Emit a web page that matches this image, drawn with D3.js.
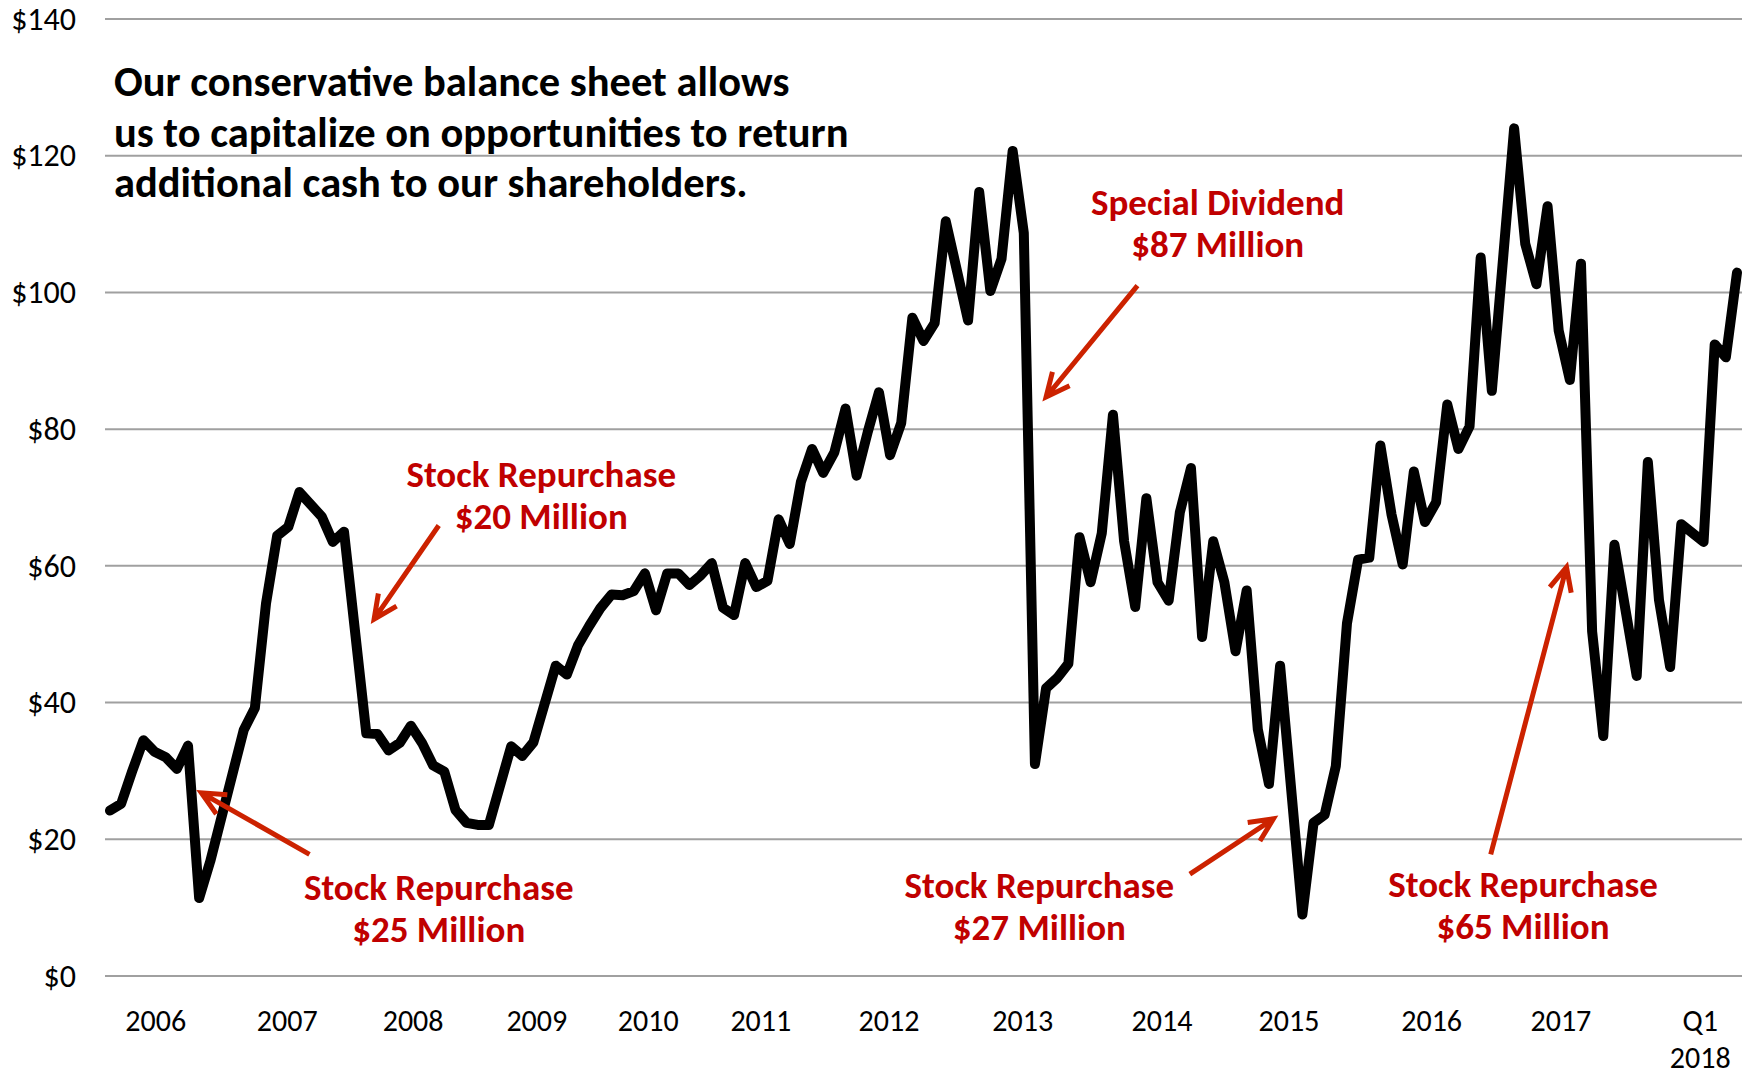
<!DOCTYPE html>
<html>
<head>
<meta charset="utf-8">
<script src="https://cdn.jsdelivr.net/npm/d3@7"></script>
<style>
  body { margin: 0; background: #fff; }
  text { font-family: Carlito, Lato, sans-serif; }
</style>
</head>
<body>
<div id="chart"></div>
<script>
// month index (0 = first month on the chart) and the price read at that month
const months = [0, 1, 2, 3, 4, 5, 6, 7, 8, 9, 12, 13, 14, 15, 16, 17, 18, 19, 20, 21,
  23, 24, 25, 26, 27, 28, 29, 30, 31, 32, 33, 34, 36, 37, 38, 40, 41, 42, 43, 44,
  45, 46, 47, 48, 49, 50, 51, 52, 53, 54, 55, 56, 57, 58, 59, 60, 61, 62, 63, 64,
  65, 66, 67, 68, 69, 70, 71, 72, 73, 74, 75, 76, 77, 78, 79, 80, 81, 82, 83, 84,
  85, 86, 87, 88, 89, 90, 91, 92, 93, 94, 95, 96, 97, 98, 99, 100, 101, 102, 103, 104,
  105, 107, 108, 109, 110, 111, 112, 113, 114, 115, 116, 117, 118, 119, 120, 121, 122, 123, 124, 126,
  127, 128, 129, 130, 131, 132, 133, 134, 135, 137, 138, 139, 140, 141, 143, 144, 145, 146];
const prices = [24.2, 25.2, 30, 34.5, 32.8, 32, 30.3, 33.7, 11.4, 16.8, 36, 39.2, 54.5, 64.4, 65.7, 70.8, 69, 67.2, 63.5, 65,
  35.5, 35.4, 33, 34.1, 36.6, 34.1, 30.8, 29.9, 24.3, 22.4, 22.1, 22.1, 33.6, 32.2, 34.2, 45.4, 44.1, 48.4, 51.2, 53.8,
  55.8, 55.7, 56.3, 58.9, 53.5, 58.9, 58.9, 57.2, 58.6, 60.4, 53.9, 52.8, 60.4, 56.9, 57.8, 66.8, 63.2, 72.3, 77.1, 73.6,
  76.6, 83, 73.2, 79.6, 85.4, 76.2, 80.9, 96.3, 92.9, 95.5, 110.4, 103.2, 95.9, 114.7, 100.2, 104.9, 120.7, 108.7, 31, 42.1,
  43.6, 45.7, 64.2, 57.6, 64.8, 82.1, 63.6, 54, 69.9, 57.6, 54.9, 67.8, 74.3, 49.6, 63.6, 57.6, 47.5, 56.4, 36.1, 28.1,
  45.4, 9, 22.4, 23.6, 30.7, 51.6, 60.9, 61.2, 77.6, 67.5, 60.2, 73.8, 66.4, 69.3, 83.6, 77.1, 80.4, 105.1, 85.6, 124,
  107.1, 101.2, 112.6, 94.4, 87.2, 104.2, 50.4, 35.1, 63.1, 43.9, 75.2, 55, 45.2, 66.1, 63.5, 92.4, 90.5, 102.9];

const yTicks = [0, 20, 40, 60, 80, 100, 120, 140];
const yearLabels = ["2006", "2007", "2008", "2009", "2010", "2011", "2012", "2013",
  "2014", "2015", "2016", "2017", "Q1\n2018"];
const yearPos = [4.1, 15.9, 27.2, 38.3, 48.3, 58.4, 69.9, 81.9, 94.4, 105.8, 118.6, 130.2, 142.7];

const titleLines = ["Our conservative balance sheet allows",
  "us to capitalize on opportunities to return",
  "additional cash to our shareholders."];

// callouts: text, where the text sits and where the arrow runs, in [month, price]
const calloutText = [["Stock Repurchase", "$25 Million"], ["Stock Repurchase", "$20 Million"],
  ["Special Dividend", "$87 Million"], ["Stock Repurchase", "$27 Million"], ["Stock Repurchase", "$65 Million"]];
const calloutAt = [[29.5, 11.1], [38.7, 71.6], [99.4, 111.3], [83.4, 11.4], [126.8, 11.55]];
const arrowFrom = [[17.9, 17.8], [29.5, 65.9], [92.2, 101.0], [96.9, 14.9], [123.9, 17.8]];
const arrowTo = [[8.2, 26.8], [23.7, 52.2], [84.0, 84.7], [104.4, 23.0], [130.7, 59.8]];

const width = 1750, height = 1075;
const gridLeft = 105, gridRight = 1742;

const svg = d3.select("#chart")
  .append("svg")
  .attr("width", width)
  .attr("height", height)
  .style("background", "#fff");

const x = d3.scaleLinear()
  .domain([0, 146])
  .range([110, 1737]);

const y = d3.scaleLinear()
  .domain([0, 140])
  .range([976, 19]);

// gridlines
svg.append("g")
  .selectAll("line")
  .data(yTicks)
  .join("line")
    .attr("x1", gridLeft)
    .attr("x2", gridRight)
    .attr("y1", d => y(d))
    .attr("y2", d => y(d))
    .attr("stroke", "#a0a0a0")
    .attr("stroke-width", 2);

// y axis labels
const yAxis = svg.append("g")
  .attr("transform", `translate(${gridLeft},0)`)
  .call(d3.axisLeft(y).tickValues(yTicks).tickSize(0).tickPadding(29).tickFormat(d => "$" + d));
yAxis.select(".domain").remove();
yAxis.selectAll("text")
  .attr("font-size", 32)
  .attr("font-family", "Carlito, Lato, sans-serif")
  .attr("fill", "#000");

// x axis labels, Q1 2018 on two lines
svg.append("g")
  .selectAll("text")
  .data(yearLabels)
  .join("text")
    .attr("text-anchor", "middle")
    .attr("font-size", 30)
    .attr("fill", "#000")
    .each(function(d, i) {
      d3.select(this).selectAll("tspan")
        .data(d.split("\n"))
        .join("tspan")
          .attr("x", x(yearPos[i]))
          .attr("y", (t, j) => 1031 + j * 36.5)
          .text(t => t);
    });

// price line
const points = months.map((m, i) => [m, prices[i]]);
svg.append("path")
  .datum(points)
  .attr("fill", "none")
  .attr("stroke", "#000")
  .attr("stroke-width", 10)
  .attr("stroke-linejoin", "round")
  .attr("stroke-linecap", "round")
  .attr("d", d3.line()
    .x(d => x(d[0]))
    .y(d => y(d[1]))
  );

// title
svg.append("text")
  .attr("font-size", 42.5)
  .attr("font-weight", "bold")
  .attr("fill", "#000")
  .selectAll("tspan")
  .data(titleLines)
  .join("tspan")
    .attr("x", 114)
    .attr("y", (d, i) => 96 + i * 50.5)
    .text(d => d);

// callout arrows: shaft plus open head
const arrowPath = (i) => {
  const x0 = x(arrowFrom[i][0]), y0 = y(arrowFrom[i][1]);
  const x1 = x(arrowTo[i][0]), y1 = y(arrowTo[i][1]);
  const a = Math.atan2(y0 - y1, x0 - x1), len = 26, spread = 0.44;
  const w1 = [x1 + len * Math.cos(a - spread), y1 + len * Math.sin(a - spread)];
  const w2 = [x1 + len * Math.cos(a + spread), y1 + len * Math.sin(a + spread)];
  return `M${x0},${y0}L${x1},${y1}M${w1[0]},${w1[1]}L${x1},${y1}L${w2[0]},${w2[1]}`;
};

svg.append("g")
  .selectAll("path")
  .data(arrowFrom)
  .join("path")
    .attr("d", (d, i) => arrowPath(i))
    .attr("fill", "none")
    .attr("stroke", "#cc2200")
    .attr("stroke-width", 5);

// callout text
svg.append("g")
  .selectAll("text")
  .data(calloutText)
  .join("text")
    .attr("text-anchor", "middle")
    .attr("font-size", 37)
    .attr("font-weight", "bold")
    .attr("fill", "#c00000")
    .each(function(d, i) {
      d3.select(this).selectAll("tspan")
        .data(d)
        .join("tspan")
          .attr("x", x(calloutAt[i][0]))
          .attr("y", (t, j) => y(calloutAt[i][1]) + j * 42)
          .text(t => t);
    });
</script>
</body>
</html>
